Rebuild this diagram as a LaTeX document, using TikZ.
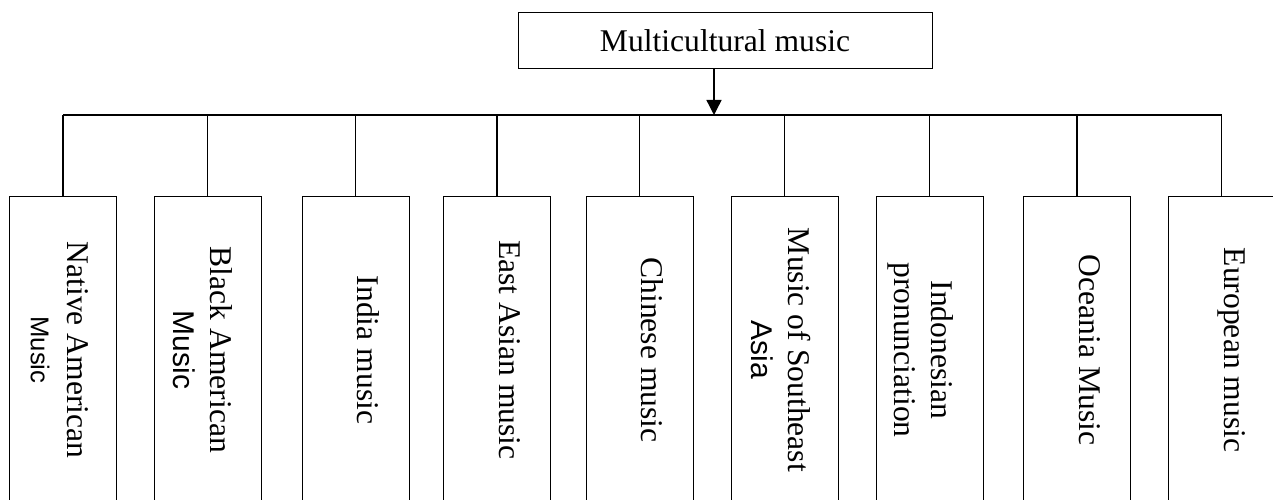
\documentclass[tikz,border=0pt]{standalone}
\usepackage{fontspec}
\setmainfont{Liberation Serif}
\setsansfont{Liberation Sans}
\usetikzlibrary{arrows.meta}

\tikzset{
  rootbox/.style={draw, line width=1pt, minimum width=414pt, minimum height=56pt, inner sep=0pt},
  leafbox/.style={draw, line width=1pt, minimum width=107pt, minimum height=306pt, inner sep=0pt},
  leaftext/.style={rotate=-90, anchor=north, align=center, inner sep=0pt},
  link/.style={line width=1.4pt},
}

\begin{document}
\begin{tikzpicture}[x=1pt, y=1pt, font=\fontsize{31.6}{37}\selectfont]
\useasboundingbox (0,0) rectangle (1273,500);
\clip (0,0) rectangle (1273,500);

\node[rootbox] (root) at (725,459) {Multicultural music};
\coordinate (bus) at (714,385);

\node[leafbox] (n1) at (63,150) {};
\node[leafbox] (n2) at (207.5,150) {};
\node[leafbox] (n3) at (355.5,150) {};
\node[leafbox] (n4) at (497,150) {};
\node[leafbox] (n5) at (639.5,150) {};
\node[leafbox] (n6) at (784.5,150) {};
\node[leafbox] (n7) at (929.5,150) {};
\node[leafbox] (n8) at (1077,150) {};
\node[leafbox] (n9) at (1221.5,150) {};

\node[leaftext] (t1) at ([xshift=-28pt]n1.east) {Native American\\{\sffamily\fontsize{25.7}{37}\selectfont Music}};
\node[leaftext] (t2) at ([xshift=-29pt]n2.east) {Black American\\{\sffamily\fontsize{30}{37}\selectfont Music}};
\node[leaftext] (t3) at ([xshift=-30pt]n3.east) {India music};
\node[leaftext] (t4) at ([xshift=-30pt]n4.east) {East Asian music};
\node[leaftext] (t5) at ([xshift=-30pt]n5.east) {Chinese music};
\node[leaftext] (t6) at ([xshift=-28pt]n6.east) {Music of Southeast\\{\sffamily\fontsize{30}{39}\selectfont Asia}};
\node[leaftext] (t7) at ([xshift=-30pt]n7.east) {Indonesian\\pronunciation};
\node[leaftext] (t8) at ([xshift=-30pt]n8.east) {Oceania Music};
\node[leaftext] (t9) at ([xshift=-30pt]n9.east) {European music};

\path[draw,link,-{Triangle[width=15pt,length=15pt]}] ([xshift=-11pt]root.south) -- (bus);
\path[draw,line width=1.6pt] (n1.north |- bus) -- (n9.north |- bus);
\path[draw,link] (n1.north) -- (n1.north |- bus);
\path[draw,link] (n2.north) -- (n2.north |- bus);
\path[draw,link] (n3.north) -- (n3.north |- bus);
\path[draw,link] (n4.north) -- (n4.north |- bus);
\path[draw,link] (n5.north) -- (n5.north |- bus);
\path[draw,link] (n6.north) -- (n6.north |- bus);
\path[draw,link] (n7.north) -- (n7.north |- bus);
\path[draw,link] (n8.north) -- (n8.north |- bus);
\path[draw,link] (n9.north) -- (n9.north |- bus);
\end{tikzpicture}
\end{document}
